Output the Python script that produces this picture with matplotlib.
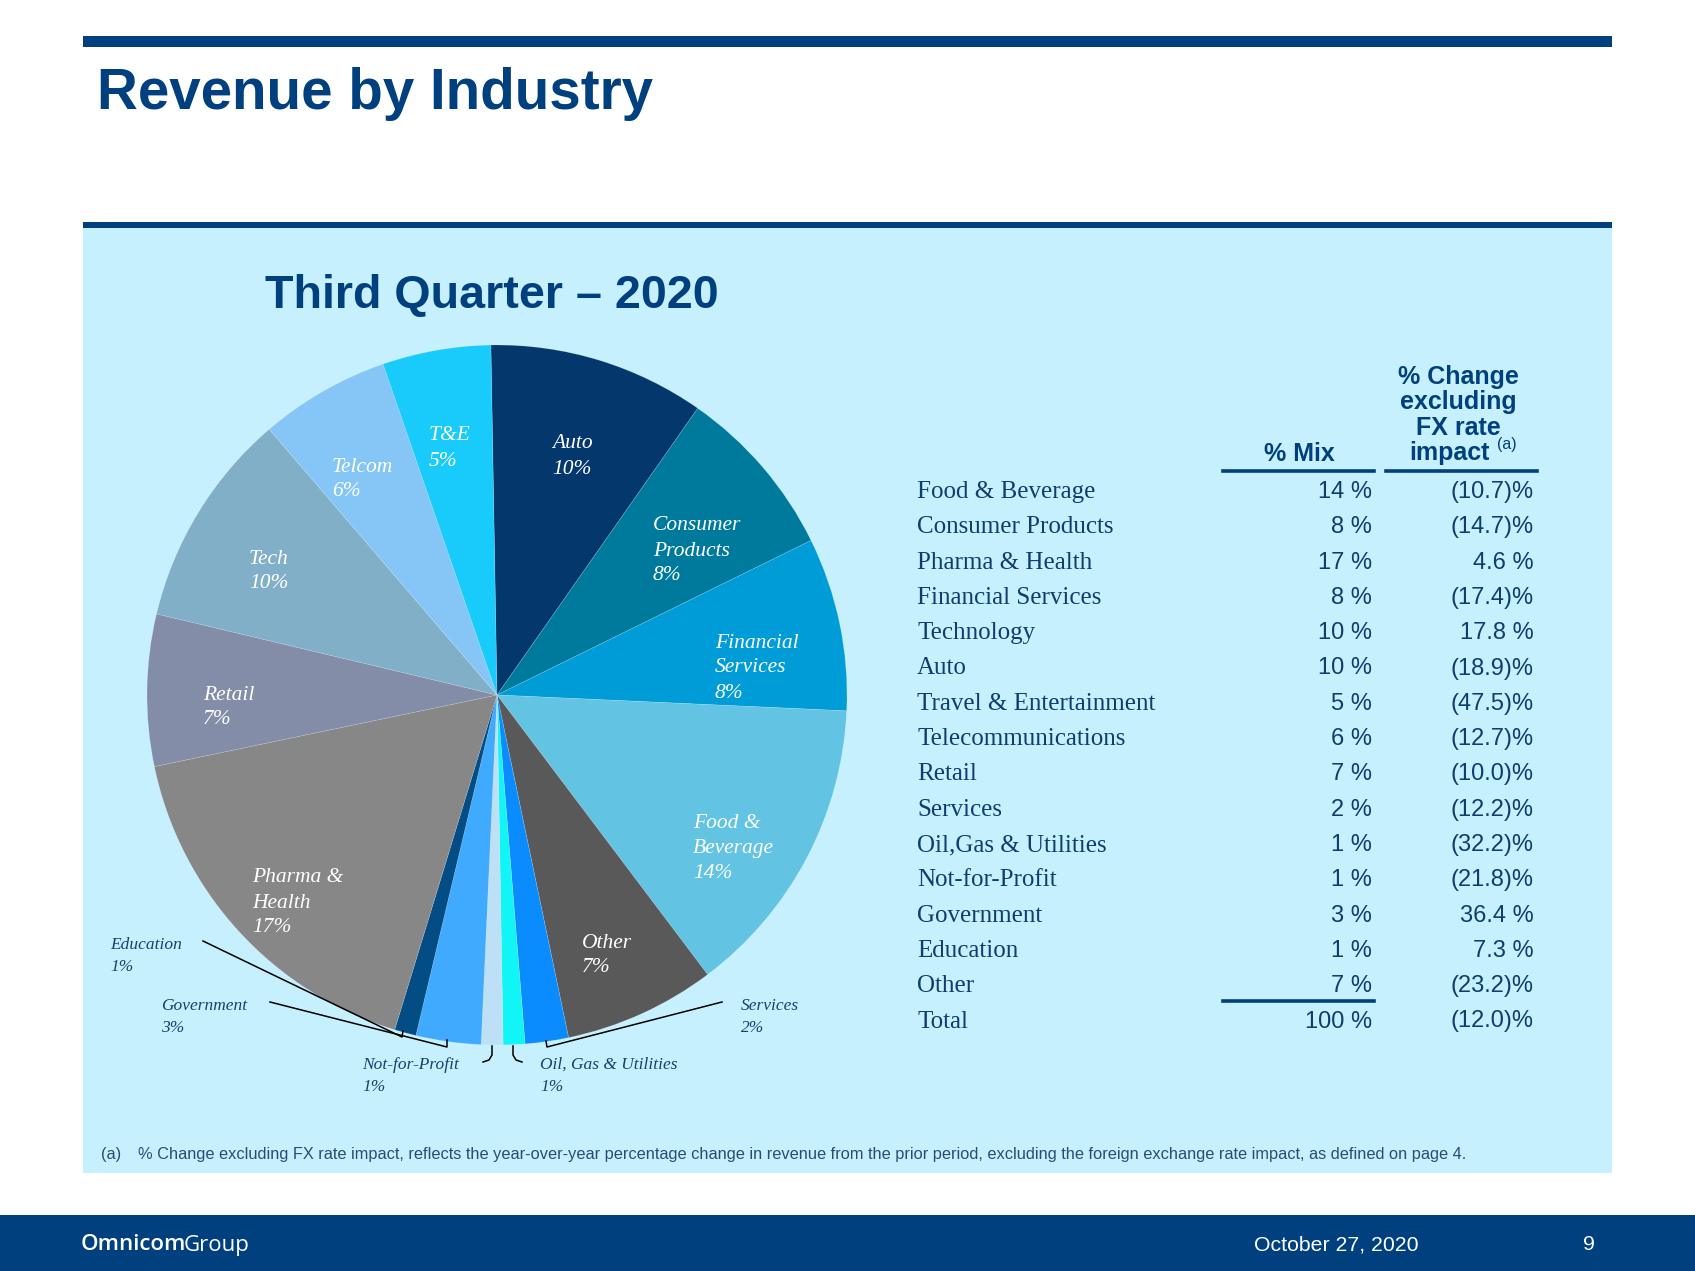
import matplotlib
matplotlib.use('Agg')
import matplotlib.pyplot as plt
from matplotlib.patches import Rectangle
from matplotlib.lines import Line2D

# ---------------- data ----------------
pie_names = ["Auto", "Consumer\nProducts", "Financial\nServices", "Food &\nBeverage", "Other",
             "Services", "Oil, Gas & Utilities", "Not-for-Profit", "Government", "Education",
             "Pharma &\nHealth", "Retail", "Tech", "Telcom", "T&E"]
pie_values = [10, 8, 8, 14, 7, 2, 1, 1, 3, 1, 17, 7, 10, 6, 5]
pie_colors = ["#04376C", "#007A9C", "#009CD8", "#63C3E2", "#595959",
              "#0A8CFF", "#12F5F7", "#BEE0F6", "#40AAFF", "#034C84",
              "#878787", "#848DA8", "#82AFC8", "#85C6F6", "#19CBFB"]

table_categories = ["Food & Beverage", "Consumer Products", "Pharma & Health", "Financial Services",
                    "Technology", "Auto", "Travel & Entertainment", "Telecommunications", "Retail",
                    "Services", "Oil,Gas & Utilities", "Not-for-Profit", "Government", "Education",
                    "Other", "Total"]
table_mix = [14, 8, 17, 8, 10, 10, 5, 6, 7, 2, 1, 1, 3, 1, 7, 100]
table_change = [-10.7, -14.7, 4.6, -17.4, 17.8, -18.9, -47.5, -12.7, -10.0, -12.2, -32.2,
                -21.8, 36.4, 7.3, -23.2, -12.0]

# ---------------- layout ----------------
W, H = 1695, 1271
fig = plt.figure(figsize=(W / 100, H / 100), dpi=100)
fig.patch.set_facecolor('white')

NAVY = "#00407E"
PANEL = "#C6F0FD"
TXT = "#0E3D6F"

def pix_axes(z):
    ax = fig.add_axes([0, 0, 1, 1], zorder=z)
    ax.set_xlim(0, W)
    ax.set_ylim(H, 0)
    ax.axis('off')
    return ax

bg = pix_axes(0)
bg.add_patch(Rectangle((83, 36), 1529, 11, color=NAVY, lw=0))
bg.add_patch(Rectangle((83, 222), 1529, 6, color=NAVY, lw=0))
bg.add_patch(Rectangle((83, 228), 1529, 945, color=PANEL, lw=0))
bg.add_patch(Rectangle((0, 1215), W, 56, color=NAVY, lw=0))

# ---------------- pie ----------------
cx, cy, R = 497, 695, 350
pax = fig.add_axes([(cx - R) / W, 1 - (cy + R) / H, 2 * R / W, 2 * R / H], zorder=1)
pax.pie(pie_values, colors=pie_colors, startangle=91, counterclock=False, radius=1,
        wedgeprops=dict(linewidth=0.4, edgecolor=(1, 1, 1, 0.25)))
pax.set_xlim(-1, 1)
pax.set_ylim(-1, 1)
pax.axis('off')

ov = pix_axes(2)

SERIF = "Liberation Serif"
SANS = "Liberation Sans"

# titles
ov.text(97, 109, "Revenue by Industry", fontsize=40.7, fontweight='bold', color=NAVY,
        family=SANS, ha='left', va='baseline')
ov.text(265, 308, "Third Quarter \u2013 2020", fontsize=33.6, fontweight='bold', color=NAVY,
        family=SANS, ha='left', va='baseline')

# inside pie labels (position of first line)
inside_pos = {
    "Auto": (552, 444), "Consumer\nProducts": (653, 526), "Financial\nServices": (715, 643),
    "Food &\nBeverage": (693, 823), "Other": (582, 943), "Pharma &\nHealth": (252, 878),
    "Retail": (203, 695), "Tech": (249, 559), "Telcom": (332, 467), "T&E": (429, 436),
}
outside_pos = {
    "Education": (110, 945), "Government": (161, 1006), "Services": (741, 1006),
    "Not-for-Profit": (362, 1065), "Oil, Gas & Utilities": (540, 1065),
}
for name, val in zip(pie_names, pie_values):
    lines = name.split("\n") + [f"{val}%"]
    if name in inside_pos:
        x, y = inside_pos[name]
        for i, ln in enumerate(lines):
            ov.text(x, y + i * 25, ln, fontsize=15.5, style='italic', color='white',
                    family=SERIF, ha='left', va='center')
    else:
        x, y = outside_pos[name]
        for i, ln in enumerate(lines):
            ov.text(x, y + i * 22, ln, fontsize=12.5, style='italic', color="#1B3F6E",
                    family=SERIF, ha='left', va='center')

# leader lines
leaders = [
    [(203, 941), (402, 1037), (403, 1031)],
    [(270, 1002), (447, 1047), (447, 1040)],
    [(492, 1046), (492, 1055), (489, 1060), (483, 1062)],
    [(513, 1046), (513, 1055), (516, 1060), (522, 1062)],
    [(722, 1002), (547, 1047), (546, 1041)],
]
for pts in leaders:
    xs, ys = zip(*pts)
    ov.add_line(Line2D(xs, ys, color='black', lw=1.1))

# ---------------- table ----------------
ov.text(1299, 454, "% Mix", fontsize=18, fontweight='bold', color=NAVY, family=SANS,
        ha='center', va='center')
hdr_x = [1458, 1458, 1458, 1449]
for i, ln in enumerate(["% Change", "excluding", "FX rate", "impact"]):
    ov.text(hdr_x[i], 377 + i * 25.3, ln, fontsize=18, fontweight='bold', color=NAVY,
            family=SANS, ha='center', va='center')
ov.text(1497, 444, "(a)", fontsize=11.5, color=NAVY, family=SANS, ha='left', va='center')
ov.add_line(Line2D([1223, 1374], [471, 471], color=NAVY, lw=2.6))
ov.add_line(Line2D([1386, 1537], [471, 471], color=NAVY, lw=2.6))
ov.add_line(Line2D([1223, 1374], [1001, 1001], color=NAVY, lw=2.6))

y0, dy = 492, 35.3
for i, (cat, mix, chg) in enumerate(zip(table_categories, table_mix, table_change)):
    y = y0 + i * dy
    ov.text(917, y, cat, fontsize=18, color=TXT, family=SERIF, ha='left', va='center')
    ov.text(1372, y, f"{mix} %", fontsize=17, color=TXT, family=SANS, ha='right', va='center')
    s = f"({abs(chg):.1f})%" if chg < 0 else f"{chg:.1f} %"
    ov.text(1534, y, s, fontsize=17, color=TXT, family=SANS, ha='right', va='center')

# footnote
ov.text(101, 1155, "(a)", fontsize=11.8, color="#2A4C74", family=SANS, ha='left', va='center')
ov.text(138, 1155, "% Change excluding FX rate impact, reflects the year-over-year percentage change "
        "in revenue from the prior period, excluding the foreign exchange rate impact, as defined on page\u00a04.",
        fontsize=11.8, color="#2A4C74", family=SANS, ha='left', va='center')

# footer
t1 = ov.text(81, 1245, "Omnicom", fontsize=16, fontweight='semibold', color='white',
             family="Open Sans", ha='left', va='center')
fig.canvas.draw()
bb = t1.get_window_extent()
x_end = bb.x1 - 3  # pixel coords == data coords in x
ov.text(x_end, 1245, "Group", fontsize=16, color='white', family="Open Sans", ha='left', va='center')
ov.text(1336, 1245, "October 27, 2020", fontsize=15.3, color='white', family=SANS,
        ha='center', va='center')
ov.text(1589, 1245, "9", fontsize=15.3, color='white', family=SANS, ha='center', va='center')

fig.savefig("out.png", dpi=100, facecolor='white')
